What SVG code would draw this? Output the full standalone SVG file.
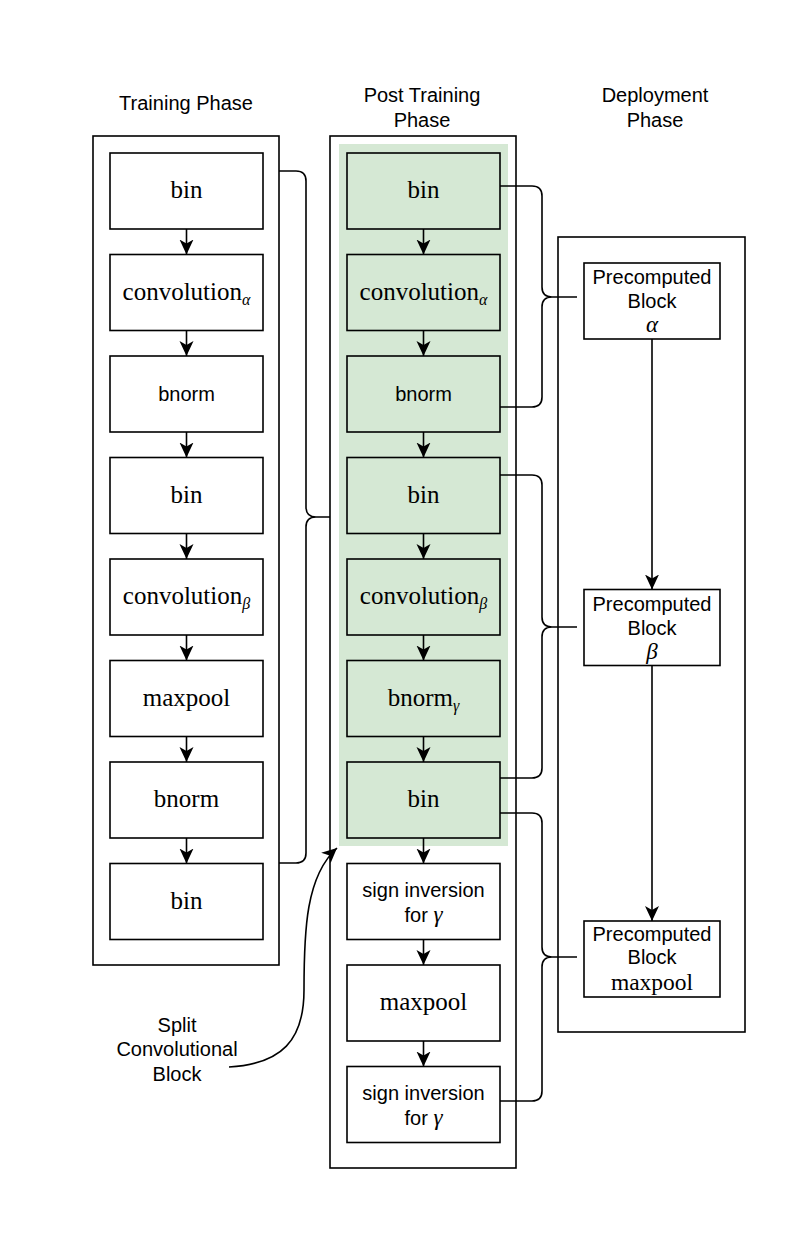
<svg xmlns="http://www.w3.org/2000/svg" width="800" height="1254" viewBox="0 0 800 1254">
<style>
.cont{fill:none;stroke:#000;stroke-width:1.6}
.box{fill:#fff;stroke:#000;stroke-width:1.6}
.gbox{fill:#d5e8d4;stroke:#000;stroke-width:1.6}
.ln{fill:none;stroke:#000;stroke-width:1.6}
.m{font-family:"Liberation Serif","Times New Roman",serif;font-size:25px;fill:#000;text-anchor:middle}
.s{font-family:"Liberation Sans",Arial,sans-serif;font-size:20px;fill:#000;text-anchor:middle}
.sub{font-size:16px;font-style:italic}
.gr{font-family:"Liberation Serif","Times New Roman",serif;font-style:italic;font-size:23px}
.ms{font-size:23.5px}
</style>
<defs>
<marker id="ah" markerWidth="16" markerHeight="16" refX="15" refY="8" orient="auto" markerUnits="userSpaceOnUse" viewBox="0 0 16 16">
<path d="M0,1 L15,8 L0,15 L4,8 Z" fill="#000"/>
</marker>
</defs>
<rect width="800" height="1254" fill="#fff"/>

<g id="headers">
<text class="s" x="186" y="110">Training Phase</text>
<text class="s" x="422" y="102">Post Training</text>
<text class="s" x="422" y="127">Phase</text>
<text class="s" x="655" y="102">Deployment</text>
<text class="s" x="655" y="127">Phase</text>
</g>

<g id="containers">
<rect id="training-container" class="cont" x="93" y="136" width="186" height="829"/>
<rect id="post-container" class="cont" x="330" y="136" width="186" height="1032"/>
<rect id="deploy-container" class="cont" x="558" y="237" width="187" height="795"/>
<rect id="split-block-bg" x="339" y="144" width="169" height="702" fill="#d5e8d4"/>
</g>

<g id="training-nodes">
<g id="t0"><rect class="box" x="110" y="153" width="153" height="76"/><text class="m" x="186.5" y="198">bin</text></g>
<g id="t1"><rect class="box" x="110" y="254.5" width="153" height="76"/><text class="m" x="186.5" y="299.5">convolution<tspan class="sub" dy="5">α</tspan></text></g>
<g id="t2"><rect class="box" x="110" y="356" width="153" height="76"/><text class="s" x="186.5" y="401">bnorm</text></g>
<g id="t3"><rect class="box" x="110" y="457.5" width="153" height="76"/><text class="m" x="186.5" y="502.5">bin</text></g>
<g id="t4"><rect class="box" x="110" y="559" width="153" height="76"/><text class="m" x="186.5" y="604">convolution<tspan class="sub" dy="5">β</tspan></text></g>
<g id="t5"><rect class="box" x="110" y="660.5" width="153" height="76"/><text class="m" x="186.5" y="705.5">maxpool</text></g>
<g id="t6"><rect class="box" x="110" y="762" width="153" height="76"/><text class="m" x="186.5" y="807">bnorm</text></g>
<g id="t7"><rect class="box" x="110" y="863.5" width="153" height="76"/><text class="m" x="186.5" y="908.5">bin</text></g>
</g>

<g id="post-nodes">
<g id="p0"><rect class="gbox" x="347" y="153" width="153" height="76"/><text class="m" x="423.5" y="198">bin</text></g>
<g id="p1"><rect class="gbox" x="347" y="254.5" width="153" height="76"/><text class="m" x="423.5" y="299.5">convolution<tspan class="sub" dy="5">α</tspan></text></g>
<g id="p2"><rect class="gbox" x="347" y="356" width="153" height="76"/><text class="s" x="423.5" y="401">bnorm</text></g>
<g id="p3"><rect class="gbox" x="347" y="457.5" width="153" height="76"/><text class="m" x="423.5" y="502.5">bin</text></g>
<g id="p4"><rect class="gbox" x="347" y="559" width="153" height="76"/><text class="m" x="423.5" y="604">convolution<tspan class="sub" dy="5">β</tspan></text></g>
<g id="p5"><rect class="gbox" x="347" y="660.5" width="153" height="76"/><text class="m" x="423.5" y="705.5">bnorm<tspan class="sub" dy="5">γ</tspan></text></g>
<g id="p6"><rect class="gbox" x="347" y="762" width="153" height="76"/><text class="m" x="423.5" y="807">bin</text></g>
<g id="p7"><rect class="box" x="347" y="863.5" width="153" height="76"/><text class="s" x="423.5" y="896.5">sign inversion</text><text class="s" x="423.5" y="921.5">for <tspan class="gr">γ</tspan></text></g>
<g id="p8"><rect class="box" x="347" y="965" width="153" height="76"/><text class="m" x="423.5" y="1010">maxpool</text></g>
<g id="p9"><rect class="box" x="347" y="1066.5" width="153" height="76"/><text class="s" x="423.5" y="1099.5">sign inversion</text><text class="s" x="423.5" y="1124.5">for <tspan class="gr">γ</tspan></text></g>
</g>

<g id="deploy-nodes">
<g id="d0"><rect class="box" x="584" y="263" width="136" height="76"/><text class="s" x="652" y="284">Precomputed</text><text class="s" x="652" y="308">Block</text><text class="m gr" x="652" y="332">α</text></g>
<g id="d1"><rect class="box" x="584" y="589.5" width="136" height="76"/><text class="s" x="652" y="610.5">Precomputed</text><text class="s" x="652" y="634.5">Block</text><text class="m gr" x="652" y="658.5">β</text></g>
<g id="d2"><rect class="box" x="584" y="921" width="136" height="76"/><text class="s" x="652" y="941">Precomputed</text><text class="s" x="652" y="964">Block</text><text class="m ms" x="652" y="990">maxpool</text></g>
</g>

<g id="label-split">
<text class="s" x="177" y="1032">Split</text>
<text class="s" x="177" y="1056">Convolutional</text>
<text class="s" x="177" y="1081">Block</text>
</g>

<g id="connectors">
<line class="ln" x1="186.5" y1="229" x2="186.5" y2="254.5" marker-end="url(#ah)"/>
<line class="ln" x1="186.5" y1="330.5" x2="186.5" y2="356" marker-end="url(#ah)"/>
<line class="ln" x1="186.5" y1="432" x2="186.5" y2="457.5" marker-end="url(#ah)"/>
<line class="ln" x1="186.5" y1="533.5" x2="186.5" y2="559" marker-end="url(#ah)"/>
<line class="ln" x1="186.5" y1="635" x2="186.5" y2="660.5" marker-end="url(#ah)"/>
<line class="ln" x1="186.5" y1="736.5" x2="186.5" y2="762" marker-end="url(#ah)"/>
<line class="ln" x1="186.5" y1="838" x2="186.5" y2="863.5" marker-end="url(#ah)"/>

<line class="ln" x1="423.5" y1="229" x2="423.5" y2="254.5" marker-end="url(#ah)"/>
<line class="ln" x1="423.5" y1="330.5" x2="423.5" y2="356" marker-end="url(#ah)"/>
<line class="ln" x1="423.5" y1="432" x2="423.5" y2="457.5" marker-end="url(#ah)"/>
<line class="ln" x1="423.5" y1="533.5" x2="423.5" y2="559" marker-end="url(#ah)"/>
<line class="ln" x1="423.5" y1="635" x2="423.5" y2="660.5" marker-end="url(#ah)"/>
<line class="ln" x1="423.5" y1="736.5" x2="423.5" y2="762" marker-end="url(#ah)"/>
<line class="ln" x1="423.5" y1="838" x2="423.5" y2="863.5" marker-end="url(#ah)"/>
<line class="ln" x1="423.5" y1="939.5" x2="423.5" y2="965" marker-end="url(#ah)"/>
<line class="ln" x1="423.5" y1="1041" x2="423.5" y2="1066.5" marker-end="url(#ah)"/>

<line class="ln" x1="652" y1="339" x2="652" y2="589.5" marker-end="url(#ah)"/>
<line class="ln" x1="652" y1="665.5" x2="652" y2="921" marker-end="url(#ah)"/>

<path class="ln" d="M279,171 H296 Q306,171 306,181 V507 Q306,517 316,517 Q306,517 306,527 V853 Q306,863 296,863 H279 M316,517 H330"/>
<path class="ln" d="M500,186 H532 Q542,186 542,196 V287 Q542,297 552,297 Q542,297 542,307 V397 Q542,407 532,407 H500 M552,297 H577"/>
<path class="ln" d="M500,475 H532 Q542,475 542,485 V617 Q542,627 552,627 Q542,627 542,637 V768 Q542,778 532,778 H500 M552,627 H577"/>
<path class="ln" d="M500,813 H532 Q542,813 542,823 V947 Q542,957 552,957 Q542,957 542,967 V1091 Q542,1101 532,1101 H500 M552,957 H577"/>

<path class="ln" d="M229,1067 C282,1064 304,1040 304,990 C304,930 306,876 337,848" marker-end="url(#ah)"/>
</g>
</svg>
